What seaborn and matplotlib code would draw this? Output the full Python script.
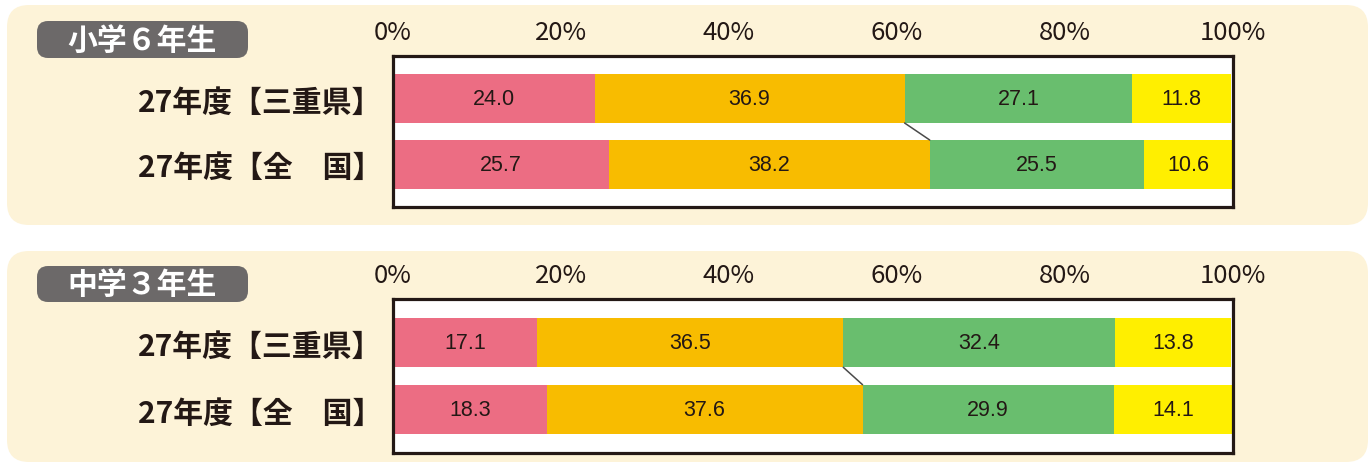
import numpy as np
import pandas as pd
import matplotlib
matplotlib.use("Agg")
from matplotlib import pyplot as plt
from matplotlib.patches import FancyBboxPatch
import seaborn as sns

sns.set_style("white")
plt.rcParams['font.family'] = ['Noto Sans CJK JP', 'DejaVu Sans']

W, H = 1371, 464

rows = ["27年度【三重県】", "27年度【全\u3000国】"]
groups = ["小学６年生", "中学３年生"]
ticks = [0, 20, 40, 60, 80, 100]

# shares per answer category, one list per grade (rows: Mie, national)
sho6_a = [24.0, 25.7]
sho6_b = [36.9, 38.2]
sho6_c = [27.1, 25.5]
sho6_d = [11.8, 10.6]

chu3_a = [17.1, 18.3]
chu3_b = [36.5, 37.6]
chu3_c = [32.4, 29.9]
chu3_d = [13.8, 14.1]

seg_colors = ["#EC6D83", "#F8BC00", "#69BE6E", "#FFEF00"]
ink = "#231815"

panels = [
    (groups[0], [sho6_a, sho6_b, sho6_c, sho6_d], (6, 226), (22, 59), (57, 208)),
    (groups[1], [chu3_a, chu3_b, chu3_c, chu3_d], (252, 463), (267, 303), (300, 454)),
]

fig = plt.figure(figsize=(W / 100, H / 100), dpi=100)
fig.patch.set_facecolor("white")

# background layer in pixel coords
bg = fig.add_axes([0, 0, 1, 1], zorder=0)
bg.set_xlim(0, W)
bg.set_ylim(0, H)
bg.axis("off")


def rbox(x0, y0, x1, y1, r, color):
    bg.add_patch(FancyBboxPatch((x0, H - y1), x1 - x0, y1 - y0,
                                boxstyle=f"round,pad=0,rounding_size={r}",
                                fc=color, ec="none"))


bar_w = 0.74
for name, segs, (py0, py1), (by0, by1), (ay0, ay1) in panels:
    rbox(7, py0, 1368, py1, 22, "#FDF3D8")
    rbox(37, by0, 248, by1, 11, "#6C6969")
    bg.text(142, H - (by0 + by1) / 2, name, color="white", fontsize=21.5,
            fontweight="bold", ha="center", va="center")

    ax = fig.add_axes([393 / W, 1 - ay1 / H, 840 / W, (ay1 - ay0) / H], zorder=2)
    ax.set_facecolor("white")
    vals = np.array(segs)
    cum = vals.cumsum(axis=0)
    # stacked bars: draw cumulative totals from the longest down
    for k in range(len(segs) - 1, -1, -1):
        df = pd.DataFrame({"row": rows, "v": cum[k]})
        sns.barplot(data=df, x="v", y="row", color=seg_colors[k], saturation=1,
                    width=bar_w, linewidth=0, orient="h", ax=ax)
    for k in range(len(segs)):
        for i in range(len(rows)):
            ax.text(cum[k][i] - vals[k][i] / 2, i, f"{vals[k][i]:.1f}",
                    ha="center", va="center", fontsize=15.5, color=ink,
                    family=["Liberation Sans", "DejaVu Sans"])
    # connector between the 2nd/3rd segment boundaries
    ax.plot([cum[1][0], cum[1][1]], [bar_w / 2, 1 - bar_w / 2],
            color="#4a4a4a", lw=1.1)

    ax.set_xlim(0, 100)
    ax.set_ylim(1.65, -0.65)
    ax.set_xticks(ticks)
    ax.set_xticklabels([f"{t}%" for t in ticks])
    ax.xaxis.tick_top()
    ax.set_xlabel("")
    ax.set_ylabel("")
    ax.tick_params(axis="x", length=0, pad=8, labelsize=18.5, labelcolor=ink)
    ax.tick_params(axis="y", length=0, pad=8, labelsize=21.5, labelcolor=ink)
    for lab in ax.get_yticklabels():
        lab.set_fontweight("bold")
    for sp in ax.spines.values():
        sp.set_visible(True)
        sp.set_color(ink)
        sp.set_linewidth(2.3)

fig.savefig("out.png", dpi=100)
